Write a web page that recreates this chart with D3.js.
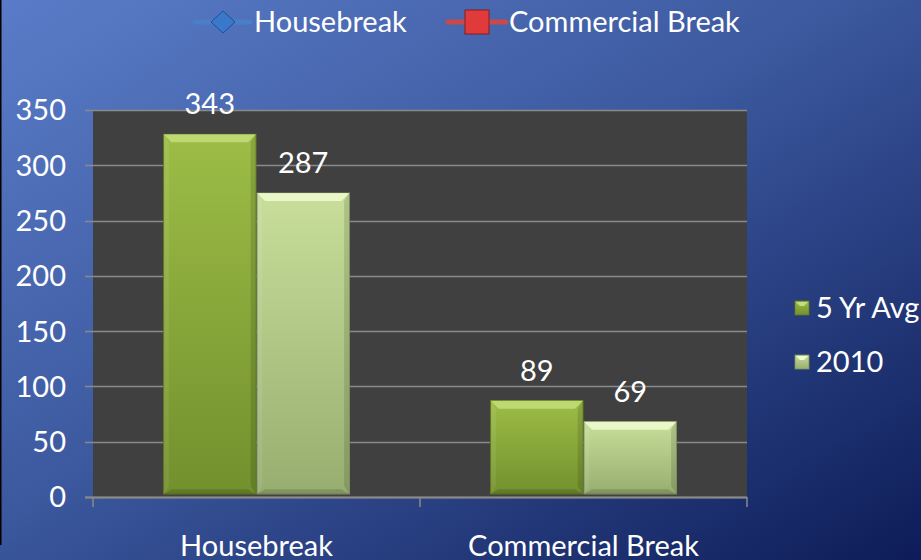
<!DOCTYPE html>
<html>
<head>
<meta charset="utf-8">
<script src="https://cdn.jsdelivr.net/npm/d3@7"></script>
<style>
  html, body { margin: 0; padding: 0; overflow: hidden; }
  svg { display: block; font-family: Lato, "Open Sans", sans-serif; }
</style>
</head>
<body>
<svg id="chart"></svg>
<script>
var width = 921;
var height = 560;

// Data
var categories = ['Housebreak', 'Commercial Break'];
var seriesNames = ['5 Yr Avg', '2010'];
var avgValues = [343, 89];
var values2010 = [287, 69];
var yTicks = [0, 50, 100, 150, 200, 250, 300, 350];
var topLegend = ['Housebreak', 'Commercial Break'];

var fontSize = 29;

var svg = d3.select('#chart')
    .attr('width', width)
    .attr('height', height)
    .attr('viewBox', `0 0 ${width} ${height}`);

var defs = svg.append('defs');

// background gradient
var bg = defs.append('linearGradient').attr('id', 'bg')
    .attr('x1', 0).attr('y1', 0).attr('x2', 1).attr('y2', 1);
bg.append('stop').attr('offset', '0%').attr('stop-color', '#5a7cc8');
bg.append('stop').attr('offset', '45%').attr('stop-color', '#3d5aa0');
bg.append('stop').attr('offset', '100%').attr('stop-color', '#0d1c58');

var barColors = [
    { top: '#9dbd47', bottom: '#72902d', bevel: '#c4de7a', edge: '#5f7a22' },
    { top: '#c8de9a', bottom: '#97ae70', bevel: '#f0fbcf', edge: '#7d9160' }
];
barColors.forEach(function (c, i) {
    var g = defs.append('linearGradient').attr('id', 'bar' + i)
        .attr('x1', 0).attr('y1', 0).attr('x2', 0).attr('y2', 1);
    g.append('stop').attr('offset', '0%').attr('stop-color', c.top);
    g.append('stop').attr('offset', '100%').attr('stop-color', c.bottom);
});

svg.append('rect')
    .attr('width', width)
    .attr('height', height)
    .attr('fill', 'url(#bg)');

// left frame edge
svg.append('line')
    .attr('x1', 0.5).attr('x2', 0.5)
    .attr('y1', 0).attr('y2', 545)
    .attr('stroke', '#000').attr('stroke-width', 2);

var plot = { left: 93, right: 747, top: 110, bottom: 497 };

var x0 = d3.scaleBand()
    .domain(categories)
    .range([plot.left, plot.right]);

var x1 = d3.scaleBand()
    .domain(seriesNames)
    .range([0, x0.bandwidth()])
    .paddingOuter(0.75)
    .paddingInner(0.0);

// back wall scale (grid) and front plane scale (bars)
var y = d3.scaleLinear().domain([0, 350]).range([plot.bottom, plot.top]);
var yFront = d3.scaleLinear().domain([0, 350]).range([494, 127]);

// back wall
svg.append('rect')
    .attr('x', plot.left)
    .attr('y', plot.top)
    .attr('width', plot.right - plot.left)
    .attr('height', plot.bottom - plot.top)
    .attr('fill', '#404040');

// gridlines + y tick marks
svg.append('g')
    .selectAll('line')
    .data(yTicks)
    .join('line')
    .attr('x1', plot.left - 8)
    .attr('x2', plot.right)
    .attr('y1', d => Math.round(y(d)) + 0.5)
    .attr('y2', d => Math.round(y(d)) + 0.5)
    .attr('stroke', '#8a8a8a')
    .attr('stroke-width', 1.5);

// y tick labels
svg.append('g')
    .selectAll('text')
    .data(yTicks)
    .join('text')
    .attr('x', 66)
    .attr('y', d => y(d))
    .attr('dy', '0.36em')
    .attr('text-anchor', 'end')
    .attr('fill', '#fff')
    .attr('font-size', fontSize)
    .text(d => d);

// x axis
var xAxis = svg.append('g');
xAxis.append('line')
    .attr('x1', plot.left - 8).attr('x2', plot.right)
    .attr('y1', plot.bottom + 0.5).attr('y2', plot.bottom + 0.5)
    .attr('stroke', '#8a8a8a').attr('stroke-width', 2);
var xTickPos = categories.map(c => x0(c)).concat([plot.right]);
xAxis.selectAll('.xtick')
    .data(xTickPos)
    .join('line')
    .attr('class', 'xtick')
    .attr('x1', d => d).attr('x2', d => d)
    .attr('y1', plot.bottom).attr('y2', plot.bottom + 10)
    .attr('stroke', '#8a8a8a').attr('stroke-width', 1.5);
xAxis.selectAll('text')
    .data(categories)
    .join('text')
    .attr('x', d => x0(d) + x0.bandwidth() / 2)
    .attr('y', 556)
    .attr('text-anchor', 'middle')
    .attr('fill', '#fff')
    .attr('font-size', fontSize)
    .text(d => d);

// bars
var barData = [];
categories.forEach(function (c, i) {
    barData.push({ cat: c, series: seriesNames[0], s: 0, value: avgValues[i] });
    barData.push({ cat: c, series: seriesNames[1], s: 1, value: values2010[i] });
});

var bevel = 8;
var bars = svg.append('g')
    .selectAll('g')
    .data(barData)
    .join('g')
    .attr('transform', d => `translate(${x0(d.cat) + x1(d.series)}, 0)`);

bars.append('rect')
    .attr('x', 0.5)
    .attr('y', d => yFront(d.value))
    .attr('width', x1.bandwidth() - 1)
    .attr('height', d => yFront(0) - yFront(d.value))
    .attr('fill', d => `url(#bar${d.s})`)
    .attr('stroke', d => barColors[d.s].edge)
    .attr('stroke-width', 1);

// top bevel
bars.append('path')
    .attr('d', function (d) {
        var w = x1.bandwidth() - 1, t = yFront(d.value);
        return `M0.5,${t}L${w + 0.5},${t}L${w + 0.5 - bevel},${t + bevel}L${0.5 + bevel},${t + bevel}Z`;
    })
    .attr('fill', d => barColors[d.s].bevel)
    .attr('opacity', 0.85);

// side bevels
bars.append('path')
    .attr('d', function (d) {
        var t = yFront(d.value), b = yFront(0);
        return `M1,${t}L${1 + bevel * 0.6},${t + bevel}L${1 + bevel * 0.6},${b - bevel}L1,${b}Z`;
    })
    .attr('fill', '#ffffff')
    .attr('opacity', 0.08);
bars.append('path')
    .attr('d', function (d) {
        var w = x1.bandwidth() - 1, t = yFront(d.value), b = yFront(0);
        return `M${w},${t}L${w - bevel * 0.6},${t + bevel}L${w - bevel * 0.6},${b - bevel}L${w},${b}Z`;
    })
    .attr('fill', '#000')
    .attr('opacity', 0.12);
// bottom bevel
bars.append('path')
    .attr('d', function (d) {
        var w = x1.bandwidth() - 1, b = yFront(0);
        return `M0.5,${b}L${w + 0.5},${b}L${w + 0.5 - bevel},${b - bevel * 0.6}L${0.5 + bevel},${b - bevel * 0.6}Z`;
    })
    .attr('fill', '#000')
    .attr('opacity', 0.15);

// value labels
bars.append('text')
    .attr('x', x1.bandwidth() / 2)
    .attr('y', d => yFront(d.value) - 20)
    .attr('text-anchor', 'middle')
    .attr('fill', '#fff')
    .attr('font-size', fontSize)
    .text(d => d.value);

// right legend
var legendR = svg.append('g').attr('transform', 'translate(795, 0)');
var legendRItems = legendR.selectAll('g')
    .data(seriesNames)
    .join('g')
    .attr('transform', (d, i) => `translate(0, ${308 + i * 54})`);
legendRItems.append('rect')
    .attr('x', 0).attr('y', -7)
    .attr('width', 14).attr('height', 14)
    .attr('fill', (d, i) => `url(#bar${i})`)
    .attr('stroke', (d, i) => barColors[i].edge)
    .attr('stroke-width', 0.8);
legendRItems.append('path')
    .attr('d', 'M1,-6L13,-6L9,-2L5,-2Z')
    .attr('fill', (d, i) => barColors[i].bevel);
legendRItems.append('text')
    .attr('x', 21)
    .attr('dy', '0.36em')
    .attr('fill', '#fff')
    .attr('font-size', fontSize)
    .text(d => d);

// top legend (line series with markers)
var topColors = [
    { line: '#4a7ec8', marker: '#3a78cc', markerDark: '#1f4f96' },
    { line: '#c84a4a', marker: '#e03a3a', markerDark: '#8a1a1a' }
];
var topX = [195, 448];
var topLegendItems = svg.append('g')
    .selectAll('g')
    .data(topLegend)
    .join('g')
    .attr('transform', (d, i) => `translate(${topX[i]}, 22)`);
topLegendItems.append('line')
    .attr('x1', 0).attr('x2', (d, i) => i == 0 ? 55 : 58)
    .attr('y1', 0).attr('y2', 0)
    .attr('stroke', (d, i) => topColors[i].line)
    .attr('stroke-width', 5)
    .attr('stroke-linecap', 'round');
topLegendItems.filter((d, i) => i == 0)
    .append('path')
    .attr('d', 'M28,-11L40,0L28,11L16,0Z')
    .attr('fill', topColors[0].marker)
    .attr('stroke', topColors[0].markerDark)
    .attr('stroke-width', 1);
topLegendItems.filter((d, i) => i == 1)
    .append('rect')
    .attr('x', 17).attr('y', -12)
    .attr('width', 24).attr('height', 24)
    .attr('fill', topColors[1].marker)
    .attr('stroke', topColors[1].markerDark)
    .attr('stroke-width', 1);
topLegendItems.append('text')
    .attr('x', (d, i) => i == 0 ? 59 : 61)
    .attr('dy', '0.36em')
    .attr('fill', '#fff')
    .attr('font-size', fontSize)
    .text(d => d);
</script>
</body>
</html>
